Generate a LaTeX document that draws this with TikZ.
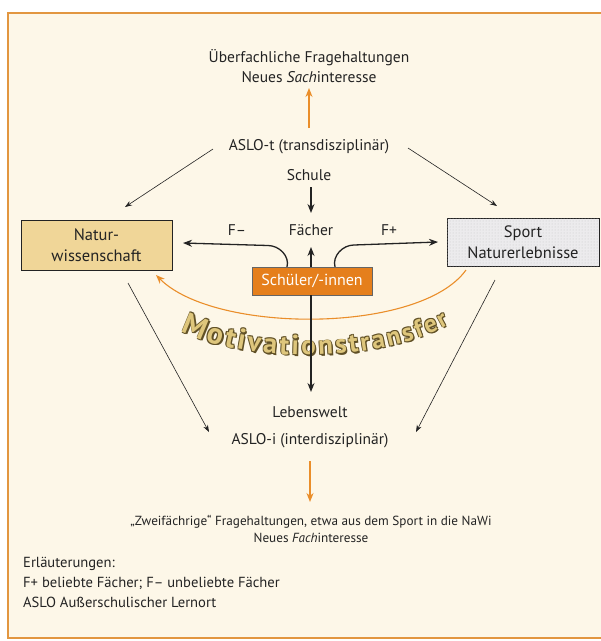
\documentclass[tikz,border=0pt]{standalone}
\usepackage{fontspec}
\setmainfont{PT Sans}
\usetikzlibrary{arrows.meta,decorations.text,patterns}

\definecolor{paper}{RGB}{253,247,232}
\definecolor{frameorange}{RGB}{226,150,64}
\definecolor{naturfill}{RGB}{240,214,152}
\definecolor{sportfill}{RGB}{236,235,237}
\definecolor{schuelerorange}{RGB}{229,127,28}
\definecolor{arroworange}{RGB}{234,142,42}
\definecolor{motivfill}{RGB}{222,198,124}
\definecolor{motivdark}{RGB}{96,80,38}
\definecolor{ink}{RGB}{35,35,35}

% bold lettering whose size shrinks along the word
\newcommand\mfs[2]{\fontsize{#1}{#1}\selectfont\bfseries\color{#2}}
\newcommand\motword[1]{|\mfs{30}{#1}|Mo|\mfs{29}{#1}|ti|\mfs{28}{#1}|va|\mfs{27.5}{#1}|ti|\mfs{27}{#1}|on|\mfs{26.5}{#1}|st|\mfs{26}{#1}|ra|\mfs{25.5}{#1}|ns|\mfs{25}{#1}|fe|\mfs{24.5}{#1}|r}

\tikzset{
  txt/.style={text=ink, inner sep=1pt, align=center},
  boxstyle/.style={draw=ink, line width=0.8pt, minimum height=50pt, align=center, text=ink,
    font=\fontsize{16.5}{21}\selectfont},
  naturbox/.style={boxstyle, fill=naturfill, minimum width=151pt},
  sportbox/.style={boxstyle, fill=sportfill, minimum width=152pt, minimum height=48pt,
    postaction={pattern=dots, pattern color=black!22}},
  schuelerbox/.style={draw=ink!70, line width=0.6pt, fill=schuelerorange, text=white,
    minimum width=120pt, minimum height=28pt, inner sep=0pt,
    font=\fontsize{16}{18}\selectfont},
  thinarrow/.style={draw=ink, line width=0.6pt, -{Stealth[length=7pt,width=5pt]}},
  bolddarrow/.style={draw=ink, line width=1.3pt, -{Stealth[length=9pt,width=7pt]}},
  orangearrow/.style={draw=arroworange, line width=1.3pt, -{Stealth[length=9pt,width=7pt]}},
  motpath/.style={decorate, decoration={text along path, text align=fit to path,
    text={\motword{#1}}}}
}

\begin{document}
\begin{tikzpicture}[x=1pt, y=-1pt, font=\fontsize{15.5}{20}\selectfont]
  \useasboundingbox (0,0) rectangle (601,641);
  \fill[white] (0,0) rectangle (601,641);
  % paper panel with its orange frame, open to the right
  \fill[paper] (8,13) rectangle (601,638);
  \draw[frameorange, line width=2pt] (601,13) -- (8,13) -- (8,638) -- (601,638);

  % texts
  \node[txt] (top) at (309,66) {Überfachliche Fragehaltungen\\Neues \textit{Sach}interesse};
  \node[txt] (aslot) at (309,147) {ASLO-t (transdisziplinär)};
  \node[txt] (schule) at (309,175) {Schule};
  \node[txt] (faecher) at (311,230) {Fächer};
  \node[txt] (fminus) at (237,230) {F–};
  \node[txt] (fplus) at (389,230) {F+};
  \node[txt] (lebenswelt) at (310,412) {Lebenswelt};
  \node[txt] (asloi) at (310,441) {ASLO-i (interdisziplinär)};
  \node[txt, font=\fontsize{13.2}{17.5}\selectfont] (zwei) at (311,529)
    {„Zweifächrige“ Fragehaltungen, etwa aus dem Sport in die NaWi\\Neues \textit{Fach}interesse};
  \node[txt, anchor=north west, align=left, font=\fontsize{14.6}{20}\selectfont] (legend) at (22,556)
    {Erläuterungen:\\F+ beliebte Fächer; F– unbeliebte Fächer\\ASLO Außerschulischer Lernort};

  % boxes
  \node[naturbox] (natur) at (96.5,245) {Natur-\\wissenschaft};
  \node[sportbox] (sport) at (523,242) {Sport\\Naturerlebnisse};
  \node[schuelerbox] (schueler) at (312,281) {Schüler/-innen};

  % helper points
  \coordinate (nawiIn) at (183,243);
  \coordinate (sportIn) at (438,242);
  \coordinate (faecherIn) at (311,247);
  \coordinate (lebenIn) at (311,392);
  \coordinate (sachIn) at (309,88);
  \coordinate (sachOut) at (309,128);
  \coordinate (fachOut) at (310,461);
  \coordinate (fachIn) at (310,502);

  % orange arrows to the new interests
  \draw[orangearrow] (sachOut) -- (sachIn);
  \draw[orangearrow] (fachOut) -- (fachIn);

  % thin arrows between the learning places and the subjects
  \draw[thinarrow] (213,149) -- (125,207);
  \draw[thinarrow] (408,148) -- (497,206);
  \draw[thinarrow] (128,283) -- (209,432);
  \draw[thinarrow] (495,280) -- (416,432);

  % school to subjects
  \draw[bolddarrow] (311,187) -- (311,213);

  % pupils to subjects
  \draw[bolddarrow] (schueler.center -| faecherIn) -- (faecherIn);
  \draw[bolddarrow] (287,267) to[out=75, in=0] (268,245.5) -- (nawiIn);
  \draw[bolddarrow] (335,267) to[out=105, in=180] (354,245) -- (sportIn);
  \node[schuelerbox] at (schueler) {Schüler/-innen};

  % motivation transfer arc
  \draw[orangearrow, line width=1.1pt] (466,270) .. controls (420,334) and (215,334) .. (156,275);

  % curved lettering with a dark rim
  \foreach \dx/\dy in {-0.8/-0.8, 0.8/-0.8, -0.8/0.8, 0.8/0.8, 1.4/1.4}
    \path[motpath=motivdark, shift={(\dx,\dy)}] (181,331) .. controls (245,364) and (380,364) .. (449,324);
  \path[motpath=motivfill] (181,331) .. controls (245,364) and (380,364) .. (449,324);

  % pupils to everyday life, running over the lettering
  \draw[bolddarrow] (schueler.south -| lebenIn) -- (lebenIn);
\end{tikzpicture}
\end{document}
